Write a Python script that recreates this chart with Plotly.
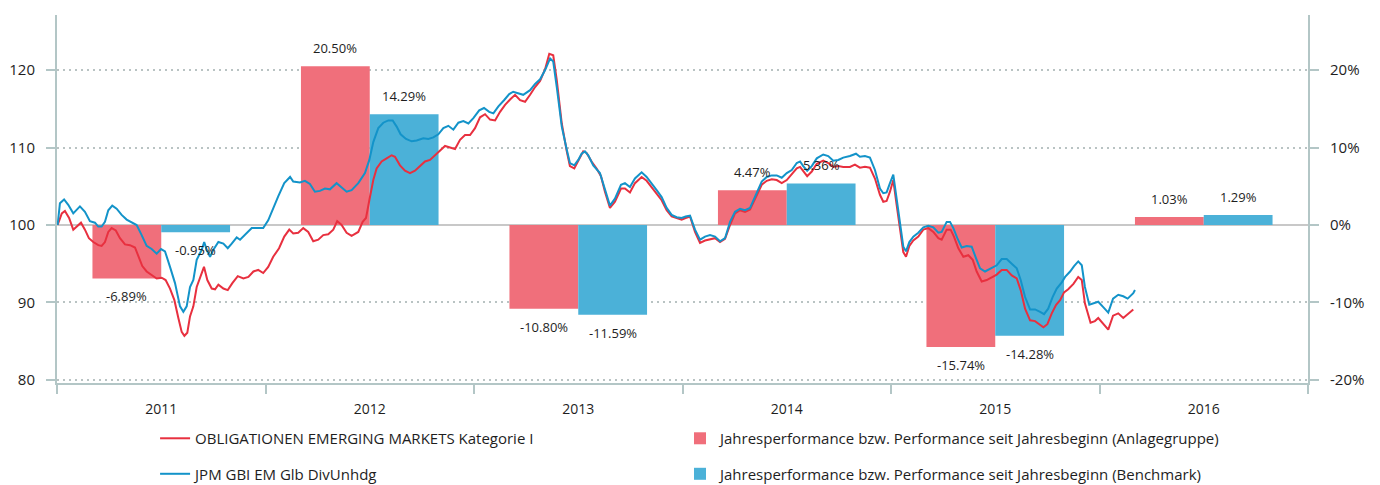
import plotly.graph_objects as go

# ---------------- data ----------------
years = [2011, 2012, 2013, 2014, 2015, 2016]
year_labels = ["2011", "2012", "2013", "2014", "2015", "2016"]
perf_fund = [-6.89, 20.50, -10.80, 4.47, -15.74, 1.03]
perf_bench = [-0.95, 14.29, -11.59, 5.36, -14.28, 1.29]
perf_fund_text = ["-6.89%", "20.50%", "-10.80%", "4.47%", "-15.74%", "1.03%"]
perf_bench_text = ["-0.95%", "14.29%", "-11.59%", "5.36%", "-14.28%", "1.29%"]
left_ticks = [80, 90, 100, 110, 120]
right_ticks = [-20, -10, 0, 10, 20]
right_tick_labels = ["-20%", "-10%", "0%", "10%", "20%"]

# time in years since 1 Jan 2011
t_fund = [0.003, 0.023, 0.038, 0.058, 0.078, 0.094, 0.115, 0.134, 0.153, 0.174, 0.198, 0.214, 0.230,
          0.246, 0.262, 0.282, 0.302, 0.326, 0.350, 0.374, 0.390, 0.409, 0.430, 0.454, 0.478, 0.502,
          0.521, 0.542, 0.563, 0.582, 0.598, 0.611, 0.625, 0.638, 0.654, 0.670, 0.689, 0.705, 0.721,
          0.742, 0.758, 0.774, 0.798, 0.819, 0.841, 0.867, 0.894, 0.918, 0.942, 0.965, 0.989, 1.013,
          1.037, 1.065, 1.090, 1.114, 1.133, 1.157, 1.181, 1.205, 1.229, 1.253, 1.277, 1.301, 1.325,
          1.344, 1.365, 1.389, 1.413, 1.445, 1.466, 1.482, 1.498, 1.517, 1.533, 1.557, 1.581, 1.605,
          1.621, 1.645, 1.669, 1.693, 1.717, 1.741, 1.765, 1.789, 1.813, 1.837, 1.861, 1.885, 1.909,
          1.933, 1.957, 1.981, 2.005, 2.029, 2.053, 2.077, 2.101, 2.125, 2.149, 2.173, 2.197, 2.221,
          2.245, 2.269, 2.293, 2.317, 2.341, 2.361, 2.380, 2.397, 2.421, 2.445, 2.460, 2.481, 2.500,
          2.524, 2.540, 2.564, 2.588, 2.609, 2.628, 2.652, 2.676, 2.705, 2.724, 2.748, 2.772, 2.804,
          2.828, 2.852, 2.876, 2.900, 2.924, 2.948, 2.972, 2.996, 3.015, 3.036, 3.060, 3.084, 3.108,
          3.132, 3.156, 3.180, 3.204, 3.228, 3.252, 3.276, 3.300, 3.324, 3.348, 3.380, 3.404, 3.428,
          3.452, 3.476, 3.500, 3.524, 3.548, 3.564, 3.579, 3.598, 3.620, 3.644, 3.675, 3.699, 3.723,
          3.747, 3.771, 3.803, 3.827, 3.851, 3.875, 3.899, 3.923, 3.947, 3.963, 3.979, 3.995, 4.011,
          4.027, 4.043, 4.059, 4.072, 4.088, 4.107, 4.131, 4.155, 4.179, 4.203, 4.227, 4.243, 4.267,
          4.286, 4.302, 4.323, 4.347, 4.371, 4.392, 4.411, 4.435, 4.459, 4.483, 4.507, 4.531, 4.555,
          4.579, 4.603, 4.622, 4.643, 4.667, 4.691, 4.711, 4.731, 4.750, 4.771, 4.792, 4.811, 4.830,
          4.850, 4.875, 4.898, 4.915, 4.930, 4.957, 4.978, 4.994, 5.018, 5.042, 5.065, 5.090, 5.114,
          5.138, 5.162]
v_fund = [100.0, 101.5, 101.8, 100.9, 99.4, 99.8, 100.3, 99.4, 98.3, 97.8, 97.4, 97.3, 97.8,
          99.1, 99.6, 99.3, 98.3, 97.5, 97.4, 97.1, 96.1, 94.7, 94.0, 93.6, 93.1, 93.2,
          92.9, 91.8, 90.3, 88.0, 86.2, 85.7, 86.1, 88.2, 89.5, 92.0, 93.3, 94.6, 92.9,
          91.8, 91.7, 92.3, 91.8, 91.6, 92.5, 93.4, 93.1, 93.3, 94.0, 94.2, 93.8, 94.6,
          95.9, 97.0, 98.5, 99.4, 98.9, 99.0, 99.6, 99.1, 97.9, 98.1, 98.7, 98.8, 99.4,
          100.5, 100.0, 99.0, 98.6, 99.1, 100.4, 100.9, 103.2, 105.8, 107.3, 108.2, 108.6, 109.0,
          108.8, 107.7, 107.0, 106.7, 107.0, 107.6, 108.2, 108.4, 109.0, 109.6, 110.2, 110.0, 109.8,
          111.0, 111.6, 111.6, 112.5, 113.9, 114.3, 113.6, 113.5, 114.6, 115.5, 116.2, 116.8, 116.1,
          115.9, 116.8, 117.8, 118.6, 120.1, 122.1, 121.9, 118.7, 113.1, 109.5, 107.6, 107.3, 108.2,
          109.5, 109.3, 108.2, 107.3, 106.3, 104.3, 102.2, 103.0, 104.7, 104.7, 104.2, 105.4, 106.2,
          105.7, 104.9, 104.1, 103.2, 101.9, 101.1, 100.9, 100.7, 100.9, 101.1, 99.1, 97.7, 98.0,
          98.2, 98.3, 97.8, 98.2, 100.0, 101.5, 101.9, 101.7, 102.0, 103.3, 105.2, 105.7, 105.9,
          105.8, 105.4, 105.8, 106.5, 107.3, 107.5, 107.0, 106.3, 106.9, 107.9, 108.3, 108.0, 107.5,
          107.6, 107.5, 107.5, 107.8, 107.4, 107.5, 107.4, 106.0, 103.9, 103.0, 103.1, 104.3, 105.8,
          102.6, 99.4, 96.5, 95.9, 97.3, 98.0, 98.5, 99.4, 99.6, 99.1, 98.3, 98.1, 99.4,
          99.4, 98.5, 97.0, 95.9, 96.1, 95.5, 94.0, 92.7, 92.9, 93.3, 93.6, 94.2, 94.2,
          93.5, 93.1, 91.6, 89.2, 87.7, 87.6, 87.2, 86.8, 87.2, 88.6, 89.7, 90.3, 91.3,
          91.7, 92.4, 93.3, 92.9, 89.9, 87.4, 87.6, 88.0, 87.2, 86.5, 88.3, 88.6, 88.0,
          88.5, 89.1]

t_bench = [0.003, 0.014, 0.034, 0.054, 0.078, 0.110, 0.134, 0.158, 0.182, 0.198, 0.214, 0.230, 0.246,
           0.265, 0.286, 0.310, 0.334, 0.358, 0.382, 0.406, 0.430, 0.454, 0.478, 0.499, 0.518, 0.542,
           0.566, 0.590, 0.606, 0.622, 0.638, 0.654, 0.670, 0.694, 0.706, 0.718, 0.734, 0.750, 0.774,
           0.798, 0.819, 0.838, 0.862, 0.878, 0.902, 0.934, 0.965, 0.989, 1.013, 1.037, 1.061, 1.090,
           1.118, 1.133, 1.165, 1.189, 1.213, 1.237, 1.261, 1.285, 1.309, 1.341, 1.365, 1.389, 1.413,
           1.445, 1.477, 1.498, 1.517, 1.541, 1.565, 1.589, 1.610, 1.629, 1.648, 1.674, 1.701, 1.725,
           1.757, 1.781, 1.805, 1.829, 1.853, 1.877, 1.901, 1.925, 1.949, 1.973, 1.997, 2.025, 2.048,
           2.073, 2.093, 2.117, 2.144, 2.169, 2.188, 2.212, 2.236, 2.269, 2.293, 2.317, 2.341, 2.365,
           2.380, 2.397, 2.421, 2.445, 2.460, 2.481, 2.500, 2.516, 2.532, 2.548, 2.572, 2.604, 2.628,
           2.652, 2.676, 2.705, 2.724, 2.748, 2.772, 2.804, 2.828, 2.852, 2.876, 2.900, 2.924, 2.948,
           2.972, 2.996, 3.015, 3.036, 3.060, 3.084, 3.108, 3.132, 3.156, 3.180, 3.204, 3.228, 3.252,
           3.276, 3.300, 3.324, 3.348, 3.380, 3.404, 3.428, 3.452, 3.476, 3.500, 3.524, 3.548, 3.564,
           3.579, 3.598, 3.620, 3.644, 3.675, 3.699, 3.723, 3.747, 3.771, 3.803, 3.832, 3.851, 3.875,
           3.899, 3.923, 3.947, 3.963, 3.979, 3.995, 4.011, 4.027, 4.043, 4.059, 4.072, 4.088, 4.107,
           4.131, 4.155, 4.179, 4.203, 4.227, 4.243, 4.267, 4.283, 4.299, 4.318, 4.339, 4.363, 4.387,
           4.408, 4.427, 4.451, 4.475, 4.507, 4.531, 4.555, 4.579, 4.603, 4.622, 4.643, 4.667, 4.691,
           4.715, 4.734, 4.754, 4.775, 4.795, 4.819, 4.835, 4.859, 4.878, 4.898, 4.915, 4.930, 4.951,
           4.970, 4.994, 5.018, 5.042, 5.065, 5.090, 5.114, 5.135, 5.162, 5.170]
v_bench = [100.0, 102.8, 103.3, 102.6, 101.5, 102.4, 101.7, 100.5, 100.3, 99.8, 99.8, 100.4, 101.9,
           102.5, 102.1, 101.3, 100.7, 100.4, 100.0, 98.7, 97.3, 96.9, 96.3, 96.9, 96.6, 94.6,
           92.5, 89.5, 88.8, 89.5, 92.0, 92.9, 95.5, 96.8, 97.8, 96.8, 95.9, 96.8, 97.8,
           97.6, 97.0, 97.6, 98.4, 98.1, 98.7, 99.6, 99.6, 99.6, 100.6, 102.2, 103.7, 105.4,
           106.2, 105.6, 105.5, 105.7, 105.3, 104.3, 104.4, 104.7, 104.6, 105.4, 104.9, 104.3, 104.5,
           105.4, 106.7, 108.4, 110.7, 112.5, 113.2, 113.5, 113.5, 112.7, 111.7, 111.1, 110.8, 110.9,
           111.2, 111.1, 111.3, 111.7, 112.5, 112.8, 112.3, 113.2, 113.4, 113.1, 113.8, 114.8, 115.1,
           114.6, 114.4, 115.3, 116.1, 116.9, 117.2, 117.0, 116.8, 117.4, 118.2, 118.8, 120.0, 121.5,
           121.1, 117.8, 112.7, 109.7, 108.0, 107.7, 108.4, 109.2, 109.5, 109.0, 107.7, 106.7, 104.5,
           102.5, 103.4, 105.2, 105.4, 104.9, 106.0, 106.8, 106.2, 105.4, 104.5, 103.6, 102.2, 101.3,
           101.0, 100.9, 101.1, 101.2, 99.4, 98.1, 98.5, 98.7, 98.5, 97.9, 98.3, 100.4, 101.7,
           102.1, 101.9, 102.2, 103.7, 105.6, 106.2, 106.4, 106.4, 106.1, 106.7, 107.1, 108.0, 108.2,
           107.6, 107.0, 107.6, 108.6, 109.1, 108.9, 108.3, 108.4, 108.7, 108.9, 109.2, 108.8, 108.9,
           108.7, 107.1, 104.7, 104.1, 104.2, 105.4, 106.5, 103.4, 100.0, 97.2, 96.6, 97.8, 98.5,
           99.0, 99.7, 99.9, 99.7, 99.0, 99.1, 100.4, 100.4, 99.6, 98.3, 97.1, 97.3, 97.2,
           95.7, 94.4, 94.0, 94.3, 94.8, 95.6, 95.6, 95.0, 94.4, 92.9, 90.7, 89.1, 89.1,
           88.8, 88.5, 89.2, 90.7, 91.8, 92.6, 93.3, 94.0, 94.7, 95.3, 94.8, 92.0, 89.7,
           89.9, 90.1, 89.4, 88.7, 90.5, 91.0, 90.8, 90.5, 91.2, 91.6]

# ---------------- styling ----------------
FONT = "'Open Sans', 'Noto Sans', sans-serif"
AX = "#b3c6c6"
GRID = "#b9c3c3"
RED_BAR = "#f06f7b"
BLUE_BAR = "#4bb1d8"
RED_LINE = "#e8303f"
BLUE_LINE = "#1393c9"
TXT = "#1e1e1e"

start = years[0]
x_fund = [start + t for t in t_fund]
x_bench = [start + t for t in t_bench]
x_mid = [y + 0.5 for y in years]

fig = go.Figure()

fig.add_trace(go.Bar(x=x_mid, y=perf_fund, name="Jahresperformance bzw. Performance seit Jahresbeginn (Anlagegruppe)",
                     marker=dict(color=RED_BAR, line=dict(width=0)), yaxis="y", legend="legend2",
                     legendgroup="b1", hoverinfo="skip"))
fig.add_trace(go.Bar(x=x_mid, y=perf_bench, name="Jahresperformance bzw. Performance seit Jahresbeginn (Benchmark)",
                     marker=dict(color=BLUE_BAR, line=dict(width=0)), yaxis="y", legend="legend2",
                     legendgroup="b2", hoverinfo="skip"))
fig.add_trace(go.Scatter(x=x_fund, y=v_fund, mode="lines", name="OBLIGATIONEN EMERGING MARKETS Kategorie I",
                         line=dict(color=RED_LINE, width=2), yaxis="y2", legend="legend", legendgroup="l1"))
fig.add_trace(go.Scatter(x=x_bench, y=v_bench, mode="lines", name="JPM GBI EM Glb DivUnhdg",
                         line=dict(color=BLUE_LINE, width=2), yaxis="y2", legend="legend", legendgroup="l2"))

# bar value labels
annotations = []
for i, y in enumerate(years):
    for off, val, txt in ((-0.165, perf_fund[i], perf_fund_text[i]), (0.165, perf_bench[i], perf_bench_text[i])):
        annotations.append(dict(x=y + 0.5 + off, y=val, xref="x", yref="y", text=txt, showarrow=False,
                                yshift=18 if val >= 0 else -18, yanchor="middle",
                                font=dict(family=FONT, size=13, color=TXT)))

fig.update_layout(
    width=1372, height=477,
    margin=dict(l=49, r=72, t=7, b=102, autoexpand=False),
    paper_bgcolor="white", plot_bgcolor="white",
    barmode="group", bargap=0.34, bargroupgap=0,
    font=dict(family=FONT, size=14, color=TXT),
    showlegend=True,
    annotations=annotations,
    xaxis=dict(range=[2011, 2017], tickvals=x_mid, ticktext=year_labels, ticks="", showgrid=False,
               zeroline=False, showline=True, linecolor=AX, linewidth=2, ticklabelstandoff=12,
               tickfont=dict(size=14, color=TXT), automargin=False,
               minor=dict(tickvals=years + [years[-1] + 1], ticks="outside", ticklen=9, tickwidth=2,
                          tickcolor=AX, showgrid=False)),
    yaxis=dict(side="right", range=[-20.39, 27.1], tickvals=right_ticks, ticktext=right_tick_labels,
               showgrid=True, gridcolor=GRID, gridwidth=2, griddash="2px,4px",
               zeroline=True, zerolinecolor="#c8c8c8", zerolinewidth=2, automargin=False,
               showline=True, linecolor=AX, linewidth=2, ticks="outside", ticklen=9, tickwidth=2,
               tickcolor=AX, ticklabelstandoff=8, tickfont=dict(size=15, color=TXT)),
    yaxis2=dict(side="left", overlaying="y", range=[79.61, 127.1], tickvals=left_ticks,
                showgrid=False, zeroline=False, showline=True, linecolor=AX, linewidth=2,
                ticks="outside", ticklen=9, tickwidth=2, tickcolor=AX, ticklabelstandoff=8,
                automargin=False, tickfont=dict(size=15, color=TXT)),
    legend=dict(xref="container", yref="container", x=0.1072, y=0.132, xanchor="left", yanchor="top",
                orientation="v", traceorder="grouped", tracegroupgap=13,
                font=dict(size=15, color=TXT), bgcolor="rgba(0,0,0,0)"),
    legend2=dict(xref="container", yref="container", x=0.4898, y=0.132, xanchor="left", yanchor="top",
                 orientation="v", traceorder="grouped", tracegroupgap=13,
                 font=dict(size=15, color=TXT), bgcolor="rgba(0,0,0,0)"),
)

fig.write_html("out.html")
